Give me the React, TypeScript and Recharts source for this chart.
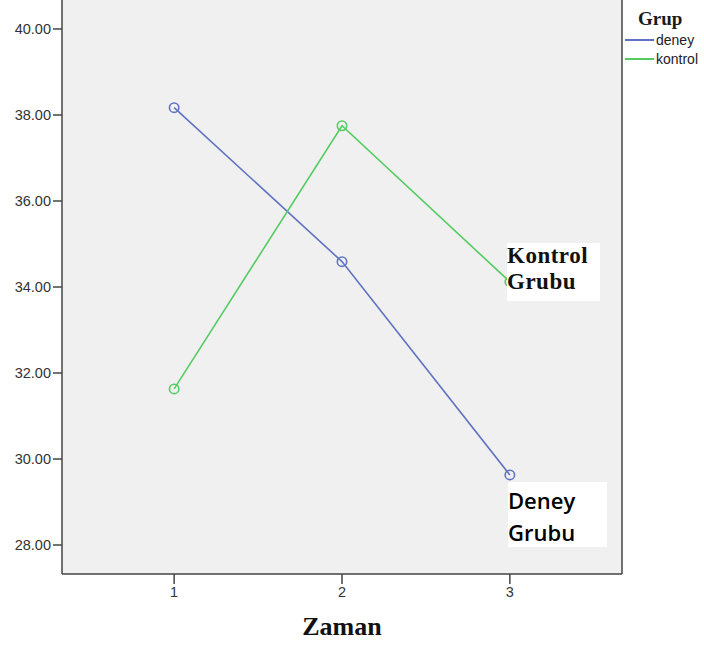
import React from "react";
import { CartesianGrid, Line, LineChart, XAxis, YAxis } from "recharts";

// Zaman (time point) on x, group means on y
const zaman = [1, 2, 3];
const deney = [38.17, 34.59, 29.63];
const kontrol = [31.63, 37.75, 34.12];
const yTicks = [28, 30, 32, 34, 36, 38, 40];
const xTicks = [1, 2, 3];
const groups = ["deney", "kontrol"];

const rows = zaman.map((z, i) => ({ zaman: z, deney: deney[i], kontrol: kontrol[i] }));

const BLUE = "#6073c2";
const GREEN = "#55cc62";
const FRAME = "#444444";
const colors: Record<string, string> = { deney: BLUE, kontrol: GREEN };

function GrupLegend() {
  return (
    <div style={{ position: "absolute", left: 625, top: 8, width: 80 }}>
      <div
        style={{
          fontFamily: "'Liberation Serif', serif",
          fontWeight: 700,
          fontSize: 19,
          color: "#1a1a1a",
          marginLeft: 13,
          lineHeight: "22px",
        }}
      >
        Grup
      </div>
      {groups.map((g) => (
        <div key={g} style={{ display: "flex", alignItems: "center", height: 18, marginTop: 1 }}>
          <span style={{ display: "inline-block", width: 29, height: 2, background: colors[g] }} />
          <span
            style={{
              fontFamily: "'Liberation Sans', Arial, sans-serif",
              fontSize: 14,
              color: "#222",
              marginLeft: 2,
            }}
          >
            {g}
          </span>
        </div>
      ))}
    </div>
  );
}

export default function App() {
  return (
    <div style={{ position: "absolute", left: 0, top: 0, width: 704, height: 646, background: "#fff" }}>
      <LineChart width={704} height={646} data={rows} margin={{ top: 0, right: 0, bottom: 0, left: 0 }}>
        <CartesianGrid fill="#f0f0f0" horizontal={false} vertical={false} />
        <XAxis
          dataKey="zaman"
          type="number"
          domain={[0.332, 3.668]}
          ticks={xTicks}
          height={72}
          tickSize={10}
          tickMargin={3}
          axisLine={{ stroke: FRAME, strokeWidth: 1.5 }}
          tickLine={{ stroke: FRAME, strokeWidth: 1.5 }}
          tick={{ fill: "#333", fontSize: 14.5, fontFamily: "'Liberation Sans', Arial, sans-serif" }}
          label={{
            value: "Zaman",
            position: "insideBottom",
            offset: 11,
            style: {
              fontFamily: "'Liberation Serif', serif",
              fontWeight: 700,
              fontSize: 26,
              fill: "#111",
            },
          }}
        />
        <YAxis
          yAxisId="left"
          type="number"
          domain={[27.326, 40.674]}
          ticks={yTicks}
          width={62}
          tickSize={9}
          tickMargin={2}
          tickFormatter={(v: number) => v.toFixed(2)}
          axisLine={{ stroke: FRAME, strokeWidth: 1.5 }}
          tickLine={{ stroke: FRAME, strokeWidth: 1.5 }}
          tick={{ fill: "#333", fontSize: 14.5, fontFamily: "'Liberation Sans', Arial, sans-serif" }}
        />
        <YAxis
          yAxisId="right"
          orientation="right"
          type="number"
          domain={[27.326, 40.674]}
          width={82}
          tick={false}
          tickLine={false}
          axisLine={{ stroke: FRAME, strokeWidth: 1.5 }}
        />
        <Line
          yAxisId="left"
          dataKey="deney"
          name="deney"
          stroke={BLUE}
          strokeWidth={1.6}
          dot={{ r: 4.7, fill: "none", stroke: BLUE, strokeWidth: 1.6 }}
          activeDot={false}
          isAnimationActive={false}
        />
        <Line
          yAxisId="left"
          dataKey="kontrol"
          name="kontrol"
          stroke={GREEN}
          strokeWidth={1.6}
          dot={{ r: 4.7, fill: "none", stroke: GREEN, strokeWidth: 1.6 }}
          activeDot={false}
          isAnimationActive={false}
        />
      </LineChart>

      <GrupLegend />

      <div
        style={{
          position: "absolute",
          left: 507,
          top: 243,
          width: 93,
          height: 58,
          background: "#fff",
          fontFamily: "'Liberation Serif', serif",
          fontWeight: 700,
          fontSize: 23,
          lineHeight: "26px",
          letterSpacing: 0.5,
          color: "#111",
          zIndex: 2,
        }}
      >
        Kontrol
        <br />
        Grubu
      </div>
      <div
        style={{
          position: "absolute",
          left: 508,
          top: 482,
          width: 99,
          height: 65,
          boxSizing: "border-box",
          paddingTop: 1.5,
          background: "#fff",
          fontFamily: "'Open Sans', sans-serif",
          fontWeight: 600,
          fontSize: 22,
          lineHeight: "32px",
          color: "#000",
          zIndex: 2,
        }}
      >
        Deney
        <br />
        Grubu
      </div>
    </div>
  );
}
